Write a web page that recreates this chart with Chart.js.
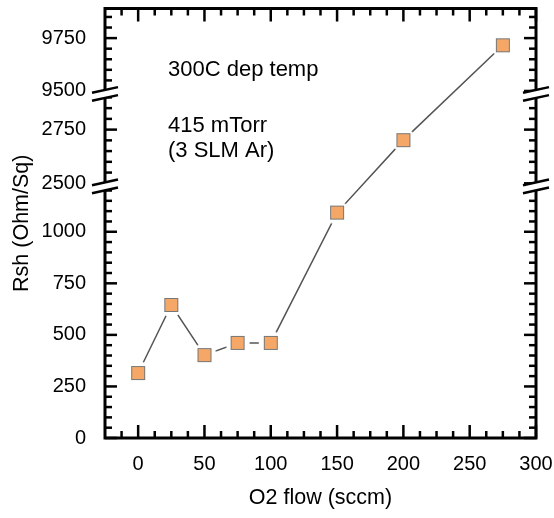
<!DOCTYPE html>
<html lang="en">
<head>
  <meta charset="UTF-8">
  <title>Rsh vs O2 flow</title>
  <script src="https://cdn.jsdelivr.net/npm/chart.js"></script>
  <style>
    html, body { margin: 0; padding: 0; background: #fff; }
  </style>
</head>
<body>
  <canvas id="rshChart" width="554" height="518"></canvas>

  <script>
    // sheet resistance vs O2 flow
    const o2Flow = [0, 25, 50, 75, 100, 150, 200, 275];
    const rsh = [315, 645, 402, 461, 461, 1093, 2701, 9716];

    const xTicks = [0, 50, 100, 150, 200, 250, 300];
    const yTicks = [0, 250, 500, 750, 1000, 2500, 2750, 9500, 9750];
    const notes = ['300C dep temp', '415 mTorr', '(3 SLM Ar)'];

    // visible pieces of the broken y axis: [from, to, share of axis length]
    const ySegments = [[0, 1235, 0.593], [2500, 2930, 0.215], [9500, 9890, 0.192]];

    const FONT = '"Liberation Sans", Arial, sans-serif';

    // minor ticks
    const xMinor = [];
    for (let v = -12.5; v < 300; v += 12.5) if (!xTicks.includes(v)) xMinor.push(v);
    const yMinor = [];
    ySegments.forEach(([lo, hi]) => {
      for (let v = lo + 50; v < hi; v += 50) if (!yTicks.includes(v)) yMinor.push(v);
    });

    // linear scale with gaps cut out
    class BrokenScale extends Chart.LinearScale {
      static id = 'broken';
      static defaults = {};

      determineDataLimits() {
        this.min = ySegments[0][0];
        this.max = ySegments[ySegments.length - 1][1];
      }

      buildTicks() {
        return yTicks.map(v => ({ value: v }));
      }

      toDecimal(value) {
        let start = 0;
        for (let i = 0; i < ySegments.length; i++) {
          const [lo, hi, share] = ySegments[i];
          if (value <= hi || i === ySegments.length - 1) {
            return start + Math.max(0, (value - lo) / (hi - lo)) * share;
          }
          start += share;
        }
        return 1;
      }

      getPixelForValue(value) {
        return this.getPixelForDecimal(this.toDecimal(value));
      }

      getValueForPixel(pixel) {
        let dec = this.getDecimalForPixel(pixel);
        for (const [lo, hi, share] of ySegments) {
          if (dec <= share) return lo + (dec / share) * (hi - lo);
          dec -= share;
        }
        return this.max;
      }
    }
    Chart.register(BrokenScale);

    // square marker with a white clearing round it, so the line stops short
    function markerImage() {
      const c = document.createElement('canvas');
      c.width = c.height = 26;
      const g = c.getContext('2d');
      g.fillStyle = '#fff';
      g.beginPath();
      g.arc(13, 13, 12, 0, Math.PI * 2);
      g.fill();
      g.fillStyle = '#F4A766';
      g.fillRect(6.5, 6.5, 13, 13);
      g.strokeStyle = '#777';
      g.lineWidth = 1;
      g.strokeRect(6.5, 6.5, 13, 13);
      return c;
    }

    function drawBreak(ctx, xc, yc) {
      const w = 13, s = 2.85, g = 4;
      ctx.fillStyle = '#fff';
      ctx.beginPath();
      ctx.moveTo(xc - w, yc - g + s);
      ctx.lineTo(xc + w, yc - g - s);
      ctx.lineTo(xc + w, yc + g - s);
      ctx.lineTo(xc - w, yc + g + s);
      ctx.closePath();
      ctx.fill();
      ctx.lineWidth = 2.5;
      ctx.beginPath();
      ctx.moveTo(xc - w, yc - g + s);
      ctx.lineTo(xc + w, yc - g - s);
      ctx.moveTo(xc - w, yc + g + s);
      ctx.lineTo(xc + w, yc + g - s);
      ctx.stroke();
    }

    // frame, inward ticks on all four sides, axis breaks and notes
    const framePlugin = {
      id: 'frame',
      afterDraw(chart) {
        const { ctx, chartArea: a, scales: { x, y } } = chart;
        ctx.save();
        ctx.strokeStyle = '#000';
        const tick = (x1, y1, x2, y2) => {
          ctx.beginPath();
          ctx.moveTo(x1, y1);
          ctx.lineTo(x2, y2);
          ctx.stroke();
        };

        ctx.lineWidth = 2.5;
        xTicks.forEach(v => {
          const px = x.getPixelForValue(v);
          tick(px, a.bottom, px, a.bottom - 13);
          tick(px, a.top, px, a.top + 13);
        });
        xMinor.forEach(v => {
          const px = x.getPixelForValue(v);
          tick(px, a.bottom, px, a.bottom - 7);
          tick(px, a.top, px, a.top + 7);
        });
        yTicks.forEach(v => {
          const py = y.getPixelForValue(v);
          tick(a.left, py, a.left + 12, py);
          tick(a.right, py, a.right - 12, py);
        });
        yMinor.forEach(v => {
          const py = y.getPixelForValue(v);
          tick(a.left, py, a.left + 7, py);
          tick(a.right, py, a.right - 7, py);
        });

        ctx.lineWidth = 3;
        ctx.strokeRect(a.left, a.top, a.right - a.left, a.bottom - a.top);

        for (let i = 1; i < ySegments.length; i++) {
          const yb = y.getPixelForValue(ySegments[i][0]) + 3;
          drawBreak(ctx, a.left, yb);
          drawBreak(ctx, a.right, yb);
        }

        ctx.fillStyle = '#000';
        ctx.font = '22px ' + FONT;
        ctx.textBaseline = 'alphabetic';
        ctx.textAlign = 'left';
        ctx.fillText(notes[0], a.left + 63, 76);
        ctx.fillText(notes[1], a.left + 63, 132);
        ctx.fillText(notes[2], a.left + 63, 157);
        ctx.restore();
      }
    };

    // keep the plot box where it is, not pushed in by end labels
    const noEdgePadding = s => {
      s.paddingTop = s.paddingBottom = s.paddingLeft = s.paddingRight = 0;
    };

    const chart = new Chart(document.getElementById('rshChart'), {
      type: 'line',
      data: {
        datasets: [{
          data: o2Flow.map((v, i) => ({ x: v, y: rsh[i] })),
          borderColor: '#555',
          borderWidth: 1.5,
          pointStyle: markerImage(),
          pointRadius: 7,
          tension: 0
        }]
      },
      options: {
        responsive: false,
        animation: false,
        layout: { padding: { top: 6, right: 18, left: 0, bottom: 0 } },
        plugins: {
          legend: { display: false },
          tooltip: { enabled: false }
        },
        scales: {
          x: {
            type: 'linear',
            min: -25,
            max: 300,
            grid: { display: false, drawTicks: false },
            border: { display: false },
            afterBuildTicks: s => { s.ticks = xTicks.map(v => ({ value: v })); },
            afterFit: s => { s.height = 80; noEdgePadding(s); },
            ticks: {
              color: '#000',
              font: { family: FONT, size: 20 },
              padding: 14,
              maxRotation: 0,
              autoSkip: false,
              callback: v => String(v)
            },
            title: {
              display: true,
              text: 'O2 flow (sccm)',
              color: '#000',
              font: { family: FONT, size: 21.5 },
              padding: { top: 0, bottom: 7 }
            }
          },
          y: {
            type: 'broken',
            grid: { display: false, drawTicks: false },
            border: { display: false },
            afterFit: s => { s.width = 105; noEdgePadding(s); },
            ticks: {
              color: '#000',
              font: { family: FONT, size: 20 },
              padding: 19,
              autoSkip: false,
              callback: v => String(v)
            },
            title: {
              display: true,
              text: 'Rsh (Ohm/Sq)',
              color: '#000',
              font: { family: FONT, size: 21.5 },
              padding: { top: 9, bottom: 0 }
            }
          }
        }
      },
      plugins: [framePlugin]
    });
  </script>
</body>
</html>
